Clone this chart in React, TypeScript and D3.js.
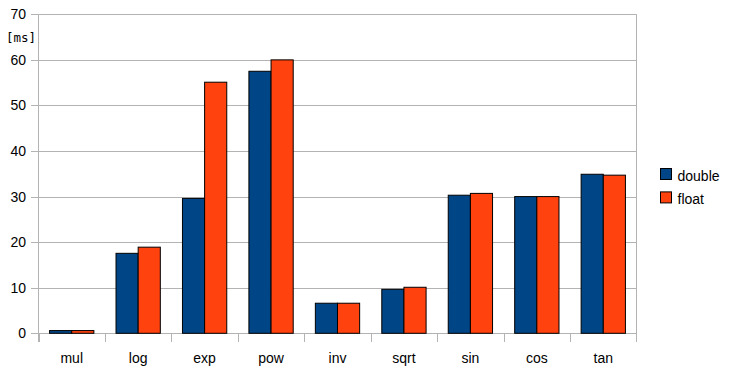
import { scaleBand, scaleLinear } from "d3";

const categories = ["mul", "log", "exp", "pow", "inv", "sqrt", "sin", "cos", "tan"];
const doubleValues = [0.6, 17.55, 29.6, 57.5, 6.6, 9.65, 30.3, 30.0, 34.9];
const floatValues = [0.6, 18.9, 55.1, 60.0, 6.6, 10.1, 30.7, 30.0, 34.7];
const yTicks = [0, 10, 20, 30, 40, 50, 60, 70];
const seriesNames = ["double", "float"];
const seriesColors = ["#004586", "#ff420e"];

export default function App() {
  const width = 729;
  const height = 375;
  const left = 38.5;
  const right = 636.5;
  const top = 14.3;
  const bottom = 333.3;

  const x = scaleBand<string>().domain(categories).range([left, right]);
  const inner = scaleBand<string>()
    .domain(seriesNames)
    .range([0, x.bandwidth()])
    .paddingOuter(0.5)
    .paddingInner(0);
  const y = scaleLinear().domain([0, 70]).range([bottom, top]);

  const font = "'Liberation Sans', Arial, sans-serif";
  const series = [doubleValues, floatValues];

  return (
    <div style={{ position: "absolute", left: 0, top: 0 }}>
      <svg width={width} height={height} style={{ display: "block", background: "#fff" }}>
        {/* gridlines and y ticks */}
        {yTicks.map((t) => (
          <g key={t}>
            <line x1={left} x2={right} y1={Math.round(y(t)) + 0.5} y2={Math.round(y(t)) + 0.5} stroke="#b3b3b3" />
            <line x1={31} x2={left} y1={Math.round(y(t)) + 0.5} y2={Math.round(y(t)) + 0.5} stroke="#b3b3b3" />
            <text x={26} y={y(t) + 5} textAnchor="end" fontFamily={font} fontSize={14} fill="#000">
              {t}
            </text>
          </g>
        ))}
        <text x={6} y={42} fontFamily="'DejaVu Sans Mono', monospace" fontSize={12.5} fill="#000">
          [ms]
        </text>

        {/* axes */}
        <line x1={left} x2={left} y1={top} y2={342} stroke="#b3b3b3" />
        <line x1={right} x2={right} y1={top} y2={342} stroke="#b3b3b3" />
        {categories.map((c) => (
          <line key={c} x1={Math.round(x(c)!) + 0.5} x2={Math.round(x(c)!) + 0.5} y1={bottom} y2={342} stroke="#b3b3b3" />
        ))}

        {/* bars */}
        {categories.map((c, i) => (
          <g key={c} transform={`translate(${x(c)},0)`}>
            {series.map((vals, s) => (
              <rect
                key={s}
                x={inner(seriesNames[s])!}
                y={y(vals[i])}
                width={inner.bandwidth()}
                height={bottom - y(vals[i])}
                fill={seriesColors[s]}
                stroke="#000"
                strokeWidth={1}
              />
            ))}
            <text x={x.bandwidth() / 2} y={363} textAnchor="middle" fontFamily={font} fontSize={14} fill="#000">
              {c}
            </text>
          </g>
        ))}

        {/* legend */}
        {seriesNames.map((n, i) => (
          <g key={n} transform={`translate(660.5,${168.5 + i * 23.4})`}>
            <rect width={11} height={11} fill={seriesColors[i]} stroke="#000" />
            <text x={17} y={12} fontFamily={font} fontSize={14} fill="#000">
              {n}
            </text>
          </g>
        ))}
      </svg>
    </div>
  );
}
